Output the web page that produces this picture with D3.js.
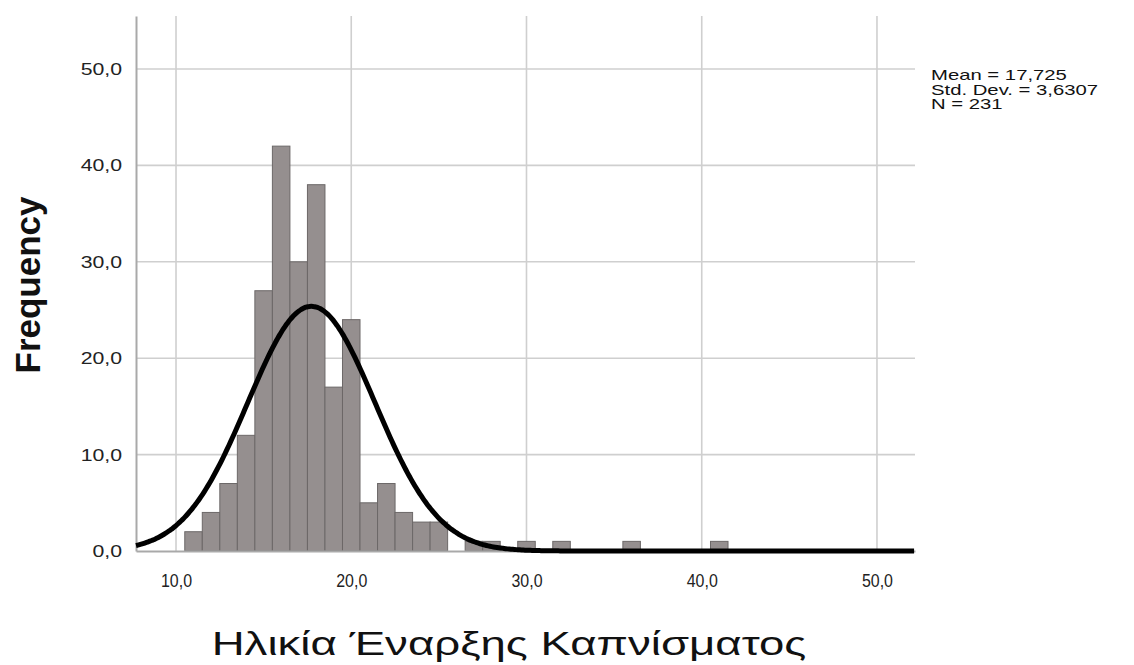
<!DOCTYPE html>
<html>
<head>
<meta charset="utf-8">
<script src="https://cdn.jsdelivr.net/npm/d3@7"></script>
<style>
  html, body { margin: 0; padding: 0; background: #fff; }
  svg { display: block; }
  text { font-family: "Liberation Sans", Arial, sans-serif; }
</style>
</head>
<body>
<svg id="chart" width="1134" height="665"></svg>
<script>
// ---- data ----
const binCenters = [11, 12, 13, 14, 15, 16, 17, 18, 19, 20, 21, 22, 23, 24, 25, 26, 27, 28, 30, 32, 36, 41];
const frequencies = [2, 4, 7, 12, 27, 42, 30, 38, 17, 24, 5, 7, 4, 3, 3, 0, 1, 1, 1, 1, 1, 1];
const binWidth = 1;
const xTicks = [10, 20, 30, 40, 50];
const yTicks = [0, 10, 20, 30, 40, 50];
const statsLabels = ["Mean = 17,725", "Std. Dev. = 3,6307", "N = 231"];
const mean = 17.725, sd = 3.6307, n = 231;
const xTitle = "Ηλικία Έναρξης Καπνίσματος";
const yTitle = "Frequency";

// ---- layout ----
const svg = d3.select("#chart");
const pLeft = 136, pRight = 915, pTop = 16, pBottom = 551;
const x = d3.scaleLinear().domain([7.717, 52.17]).range([pLeft, pRight]);
const y = d3.scaleLinear().domain([0, 55.5]).range([pBottom, pTop]);
const fmt = v => d3.format(".1f")(v).replace(".", ",");

// grid
const grid = svg.append("g");
grid.selectAll("line.v").data(xTicks).join("line")
  .attr("x1", d => x(d)).attr("x2", d => x(d))
  .attr("y1", pTop).attr("y2", pBottom)
  .attr("stroke", "#cfcfcf").attr("stroke-width", 1.6);
grid.selectAll("line.h").data(yTicks.filter(d => d > 0)).join("line")
  .attr("x1", pLeft).attr("x2", pRight)
  .attr("y1", d => y(d)).attr("y2", d => y(d))
  .attr("stroke", "#cfcfcf").attr("stroke-width", 1.6);

// bars
svg.append("g").selectAll("rect").data(binCenters.map((c, i) => ({c, f: frequencies[i]})).filter(d => d.f > 0))
  .join("rect")
  .attr("x", d => x(d.c - binWidth / 2))
  .attr("width", d => x(d.c + binWidth / 2) - x(d.c - binWidth / 2))
  .attr("y", d => y(d.f))
  .attr("height", d => y(0) - y(d.f))
  .attr("fill", "#958f8f")
  .attr("stroke", "#6c6868")
  .attr("stroke-width", 1);

// axes
const yAxis = d3.axisLeft(y).tickValues(yTicks).tickFormat(fmt).tickSize(0).tickPadding(14);
const gy = svg.append("g").attr("transform", `translate(${pLeft},0)`).call(yAxis);
gy.select(".domain").attr("stroke", "#a9a9a9").attr("stroke-width", 2);
gy.selectAll("text").attr("font-size", 17).attr("fill", "#222")
  .attr("x", 0).attr("transform", "translate(-14,0) scale(1.25,1)");

const xAxis = d3.axisBottom(x).tickValues(xTicks).tickFormat(fmt).tickSize(0).tickPadding(22);
const gx = svg.append("g").attr("transform", `translate(0,${pBottom})`).call(xAxis);
gx.select(".domain").attr("stroke", "#a9a9a9").attr("stroke-width", 2);
gx.selectAll("text").attr("font-size", 19).attr("fill", "#222")
  .attr("y", 0).attr("transform", "translate(0,22) scale(0.84,1)");

// normal curve
const pts = d3.range(x.domain()[0], x.domain()[1] + 0.001, 0.1).map(v => [v,
  n * binWidth / (sd * Math.sqrt(2 * Math.PI)) * Math.exp(-0.5 * ((v - mean) / sd) ** 2)]);
svg.append("path").datum(pts)
  .attr("d", d3.line().x(d => x(d[0])).y(d => y(d[1])).curve(d3.curveBasis))
  .attr("fill", "none").attr("stroke", "#000").attr("stroke-width", 5);

// stats
svg.append("g").selectAll("text").data(statsLabels).join("text")
  .attr("transform", (d, i) => `translate(931,${80 + i * 14.5}) scale(1.45,1)`)
  .attr("font-size", 14).attr("fill", "#111").text(d => d);

// titles
svg.append("text").attr("transform", "translate(509,655) scale(1.34,1)").attr("text-anchor", "middle")
  .attr("font-size", 34).attr("fill", "#111").text(xTitle);
svg.append("text").attr("transform", "translate(40,285) rotate(-90)").attr("text-anchor", "middle")
  .attr("font-size", 35).attr("font-weight", "bold").attr("fill", "#111").text(yTitle);
</script>
</body>
</html>
